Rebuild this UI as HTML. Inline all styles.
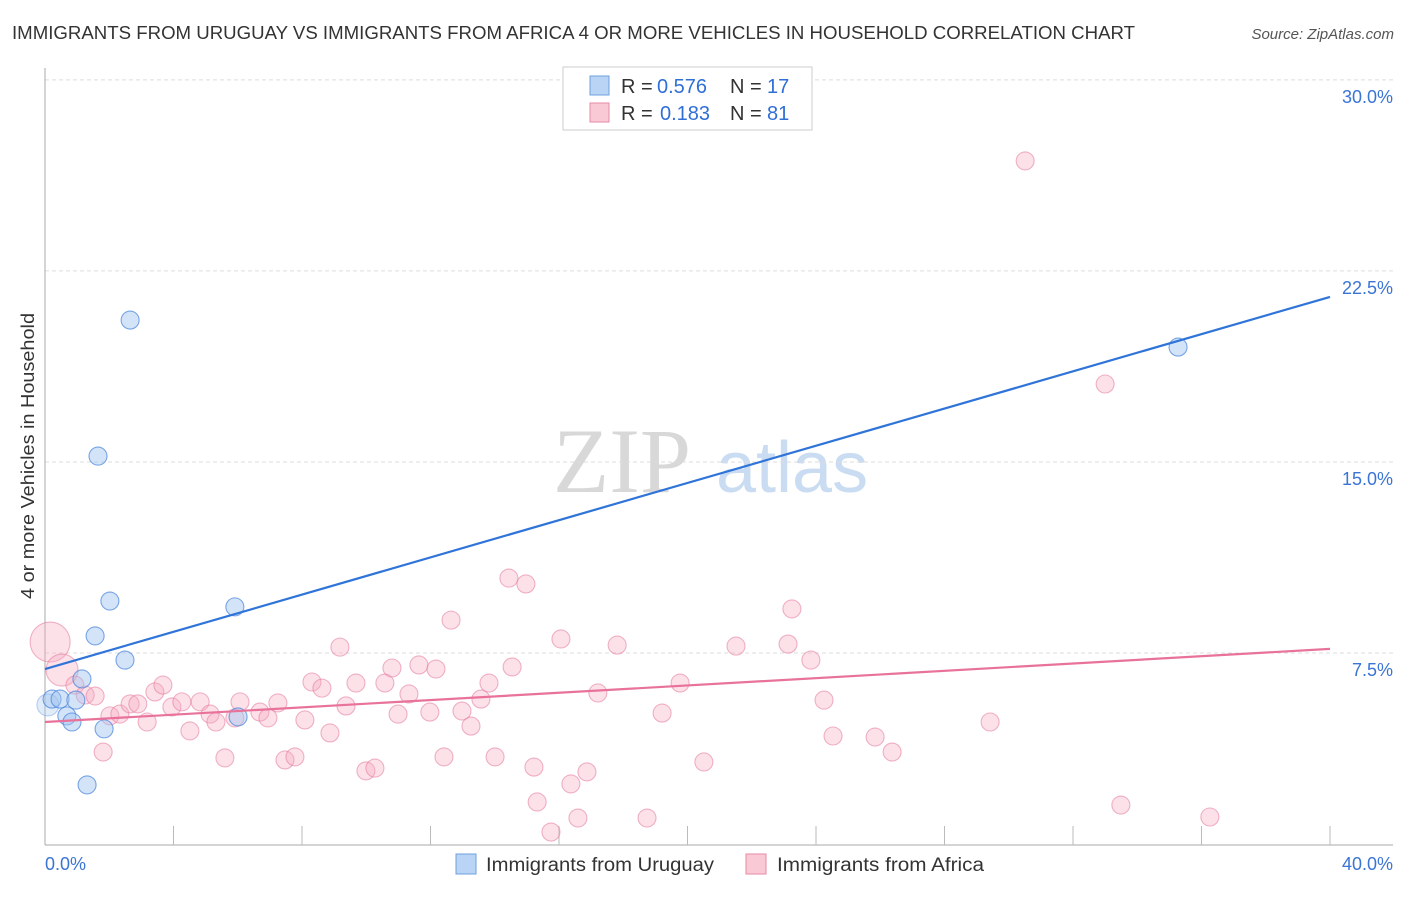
<!DOCTYPE html>
<html><head><meta charset="utf-8"><style>
body{margin:0;background:#fff;font-family:"Liberation Sans",sans-serif;}
</style></head><body>
<svg width="1406" height="892" xmlns="http://www.w3.org/2000/svg" font-family="Liberation Sans, sans-serif">
<text x="12" y="39" font-size="18" fill="#333" textLength="1123" lengthAdjust="spacingAndGlyphs">IMMIGRANTS FROM URUGUAY VS IMMIGRANTS FROM AFRICA 4 OR MORE VEHICLES IN HOUSEHOLD CORRELATION CHART</text>
<text x="1394" y="39" font-size="15" fill="#555" font-style="italic" text-anchor="end">Source: ZipAtlas.com</text>
<g><text x="553" y="492" font-size="92" font-family="Liberation Serif, serif" fill="#d8d8d8">ZIP</text><text x="716" y="492" font-size="72" fill="#c9dcf2">atlas</text></g>
<g id="grid"></g>
<g id="axes"></g>
<g id="marks"></g>
<g>
<rect x="563" y="67" width="249" height="63" fill="#fff" stroke="#ccc"/>
<rect x="590" y="76" width="19" height="19" fill="#b9d4f4" stroke="#6fa0e0"/>
<text x="621" y="93" font-size="20" fill="#333">R =</text><text x="657" y="93" font-size="20" fill="#2f6fd6">0.576</text>
<text x="730" y="93" font-size="20" fill="#333">N =</text><text x="767" y="93" font-size="20" fill="#2f6fd6">17</text>
<rect x="590" y="103" width="19" height="19" fill="#f9c9d6" stroke="#e88aa6"/>
<text x="621" y="120" font-size="20" fill="#333">R =</text><text x="660" y="120" font-size="20" fill="#2f6fd6">0.183</text>
<text x="730" y="120" font-size="20" fill="#333">N =</text><text x="767" y="120" font-size="20" fill="#2f6fd6">81</text>
</g>
<g>
<rect x="456" y="854" width="20" height="20" fill="#b9d4f4" stroke="#6fa0e0"/>
<text x="486" y="871" font-size="19" fill="#333" textLength="228" lengthAdjust="spacingAndGlyphs">Immigrants from Uruguay</text>
<rect x="746" y="854" width="20" height="20" fill="#f9c9d6" stroke="#e88aa6"/>
<text x="777" y="871" font-size="19" fill="#333" textLength="207" lengthAdjust="spacingAndGlyphs">Immigrants from Africa</text>
</g>
<text transform="translate(34,456) rotate(-90)" font-size="18" fill="#333" text-anchor="middle" textLength="286" lengthAdjust="spacingAndGlyphs">4 or more Vehicles in Household</text>
</svg>
<script>
const yTicks=[7.5,15,22.5,30];
const yTickLabels=["7.5%","15.0%","22.5%","30.0%"];
const xTicks=[0,4,8,12,16,20,24,28,32,36,40];
const xLabels=["0.0%","40.0%"];
const uruguayX=[0.09,0.22,0.47,0.68,0.84,0.96,1.15,1.31,1.56,1.65,1.84,2.02,2.49,2.65,5.91,6.01,35.27];
const uruguayY=[5.46,5.69,5.69,5.03,4.79,5.65,6.48,2.32,8.17,15.23,4.52,9.54,7.22,20.57,9.31,4.99,19.51];
const uruguayR=[11,9,9,9,9,9,9,9,9,9,9,9,9,9,9,9,9];
const africaX=[0.16,0.53,0.93,1.25,1.56,1.81,2.02,2.33,2.65,2.89,3.18,3.42,3.67,3.95,4.26,4.51,4.83,5.14,5.32,5.60,5.91,6.07,6.69,6.94,7.25,7.47,7.78,8.09,8.31,8.62,8.87,9.18,9.37,9.68,9.99,10.27,10.58,10.80,10.99,11.33,11.64,11.98,12.17,12.42,12.64,12.98,13.26,13.57,13.82,14.01,14.44,14.54,14.97,15.22,15.32,15.75,16.06,16.37,16.59,16.87,17.21,17.81,18.74,19.21,19.77,20.51,21.51,23.13,23.25,23.84,24.25,24.53,25.84,26.37,29.42,30.51,33.00,33.49,36.26];
const africaY=[7.93,6.83,6.24,5.85,5.81,3.61,5.03,5.10,5.50,5.50,4.79,5.97,6.24,5.38,5.58,4.44,5.58,5.10,4.79,3.38,4.95,5.58,5.18,4.95,5.54,3.30,3.42,4.87,6.36,6.12,4.36,7.73,5.42,6.32,2.87,2.98,6.32,6.91,5.10,5.89,7.03,5.18,6.87,3.42,8.79,5.22,4.63,5.69,6.32,3.42,10.44,6.95,10.21,3.02,1.65,0.47,8.05,2.36,1.02,2.83,5.93,7.81,1.02,5.14,6.32,3.22,7.77,7.85,9.23,7.22,5.65,4.24,4.20,3.61,4.79,26.82,18.06,1.53,1.06];
const africaR=[20,16];
const trendUruguay=[6.87,21.48];
const trendAfrica=[4.79,7.66];
const NS="http://www.w3.org/2000/svg";
function xs(v){return 45+v*32.125;}
function ys(v){return 844-v*25.47;}
function mk(tag,attrs,parent){const e=document.createElementNS(NS,tag);for(const k in attrs)e.setAttribute(k,attrs[k]);document.getElementById(parent).appendChild(e);return e;}
yTicks.forEach((t,i)=>{
 const l=mk('line',{x1:45,x2:1393,y1:ys(t),y2:ys(t),stroke:'#ddd','stroke-dasharray':'4,3'},'grid');
 
 
 const tx=mk('text',{x:1393,y:ys(t)+23,'font-size':18,fill:'#3a74d4','text-anchor':'end'},'axes');
 tx.textContent=yTickLabels[i];
 
 
});
let a=mk('line',{x1:45,x2:45,y1:68,y2:845,stroke:'#aaa'},'axes');


a=mk('line',{x1:45,x2:1393,y1:845,y2:845,stroke:'#aaa'},'axes');


xTicks.slice(1).forEach(t=>{
 const l=mk('line',{x1:xs(t),x2:xs(t),y1:826,y2:845,stroke:'#bbb'},'axes');
 
 
});
let t0=mk('text',{x:45,y:870,'font-size':18,fill:'#3a74d4'},'axes');t0.textContent=xLabels[0];


let t1=mk('text',{x:1393,y:870,'font-size':18,fill:'#3a74d4','text-anchor':'end'},'axes');t1.textContent=xLabels[1];


africaX.forEach((x,i)=>{
 const c=mk('circle',{cx:xs(x),cy:ys(africaY[i]),r:africaR[i]||9,fill:'rgba(246,170,192,0.35)',stroke:'rgba(228,120,155,0.55)','stroke-width':1.1},'marks');
 
 
});
uruguayX.forEach((x,i)=>{
 const big=uruguayR[i]>9;
 const c=mk('circle',{cx:xs(x),cy:ys(uruguayY[i]),r:uruguayR[i],fill:big?'rgba(170,200,240,0.35)':'rgba(160,196,240,0.45)',stroke:big?'rgba(70,130,220,0.35)':'rgba(70,130,220,0.7)','stroke-width':1.1},'marks');
 
 
});
let tl=mk('line',{x1:xs(0),y1:ys(trendUruguay[0]),x2:xs(40),y2:ys(trendUruguay[1]),stroke:'#2f74d8','stroke-width':2.2},'marks');


tl=mk('line',{x1:xs(0),y1:ys(trendAfrica[0]),x2:xs(40),y2:ys(trendAfrica[1]),stroke:'#e8729a','stroke-width':2.2},'marks');


</script>
</body></html>
